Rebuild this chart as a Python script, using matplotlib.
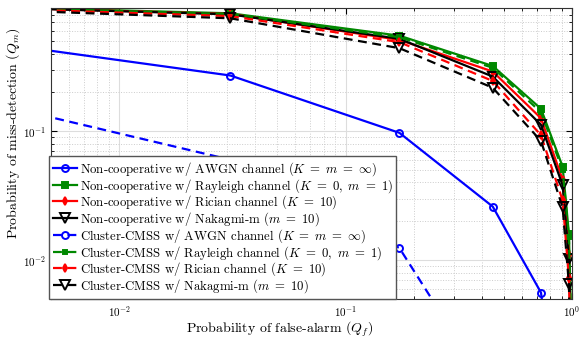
import numpy as np
import matplotlib
matplotlib.use("Agg")
import matplotlib.pyplot as plt

plt.rcParams['font.family'] = 'serif'
plt.rcParams['font.serif'] = ['cmr10']
plt.rcParams['mathtext.fontset'] = 'cm'
plt.rcParams['axes.formatter.use_mathtext'] = True

# false-alarm probabilities (x) shared by all curves
qf = [0.001, 0.031, 0.173, 0.447, 0.73, 0.91, 0.97, 0.99, 0.999]

# miss-detection probabilities
nc_awgn = [0.62, 0.27, 0.097, 0.026, 0.0056, 0.0003, 1e-5, 1e-6, 1e-7]
nc_rayl = [0.96, 0.82, 0.55, 0.32, 0.149, 0.053, 0.016, 0.004, 0.0005]
nc_rice = [0.955, 0.81, 0.51, 0.29, 0.126, 0.042, 0.011, 0.003, 0.0003]
nc_naka = [0.955, 0.805, 0.52, 0.265, 0.112, 0.038, 0.0102, 0.0025, 0.0002]
cl_awgn = [0.25, 0.060, 0.0124, 0.0009, 1e-5, 1e-6, 1e-7, 1e-8, 1e-9]
cl_rayl = [0.955, 0.81, 0.535, 0.31, 0.14, 0.05, 0.015, 0.0035, 0.0004]
cl_rice = [0.945, 0.78, 0.49, 0.245, 0.093, 0.029, 0.0072, 0.0015, 0.0001]
cl_naka = [0.93, 0.75, 0.44, 0.217, 0.084, 0.0256, 0.0065, 0.0012, 0.0001]

labels = [
    r"Non-cooperative w/ AWGN channel ($K\ =\ m\ =\ \infty$)",
    r"Non-cooperative w/ Rayleigh channel ($K\ =\ 0,\ m\ =\ 1$)",
    r"Non-cooperative w/ Rician channel ($K\ =\ 10$)",
    r"Non-cooperative w/ Nakagmi-m ($m\ =\ 10$)",
    r"Cluster-CMSS w/ AWGN channel ($K\ =\ m\ =\ \infty$)",
    r"Cluster-CMSS w/ Rayleigh channel ($K\ =\ 0,\ m\ =\ 1$)",
    r"Cluster-CMSS w/ Rician channel ($K\ =\ 10$)",
    r"Cluster-CMSS w/ Nakagmi-m ($m\ =\ 10$)",
]

fig = plt.figure(figsize=(5.84, 3.37), dpi=100)
ax = fig.add_axes([0.0873, 0.113, 0.892, 0.863])

green = '#008800'
styles = [
    (nc_awgn, 'blue', '-', 'o', 'none'),
    (nc_rayl, green, '-', 's', green),
    (nc_rice, 'red', '-', 'd', 'red'),
    (nc_naka, 'black', '-', 'v', 'none'),
    (cl_awgn, 'blue', '--', 'o', 'none'),
    (cl_rayl, green, '--', 's', green),
    (cl_rice, 'red', '--', 'd', 'red'),
    (cl_naka, 'black', '--', 'v', 'none'),
]
msizes = [5, 4, 4, 7, 5, 3, 4, 7]
for (y, c, ls, m, fc), lab, ms in zip(styles, labels, msizes):
    ax.plot(qf, y, color=c, linestyle=ls, marker=m, markerfacecolor=fc,
            markeredgecolor=c, markersize=ms, markeredgewidth=1.4,
            linewidth=1.6, label=lab, dashes=(4, 2.5) if ls == '--' else (None, None))

ax.set_xscale('log')
ax.set_yscale('log')
ax.set_xlim(0.005, 1)
ax.set_ylim(0.005, 0.9)
ax.grid(True, which='major', color='#dddddd', linewidth=0.8)
ax.grid(True, which='minor', color='#cccccc', linestyle=':', linewidth=0.7)
ax.tick_params(which='both', direction='in', top=True, right=True, labelsize=8)
ax.tick_params(which='major', length=4)
ax.tick_params(which='minor', length=2)
for s in ax.spines.values():
    s.set_color('#333333')

ax.set_xlabel(r"Probability of false-alarm ($Q_f$)", fontsize=10, labelpad=0)
ax.set_ylabel(r"Probability of miss-detection ($Q_m$)", fontsize=10, labelpad=2)
ax.xaxis.set_label_coords(0.44, -0.07)
ax.yaxis.set_label_coords(-0.055, 0.57)

leg = ax.legend(loc='lower left', fontsize=9.2, handlelength=1.9, handletextpad=0.2,
                labelspacing=-0.08, borderpad=0.3, borderaxespad=0.0,
                fancybox=False, framealpha=1, edgecolor='#555555',
                bbox_to_anchor=(-0.004, 0.0))
leg.get_frame().set_linewidth(1.0)

fig.savefig("out.png", dpi=100)
